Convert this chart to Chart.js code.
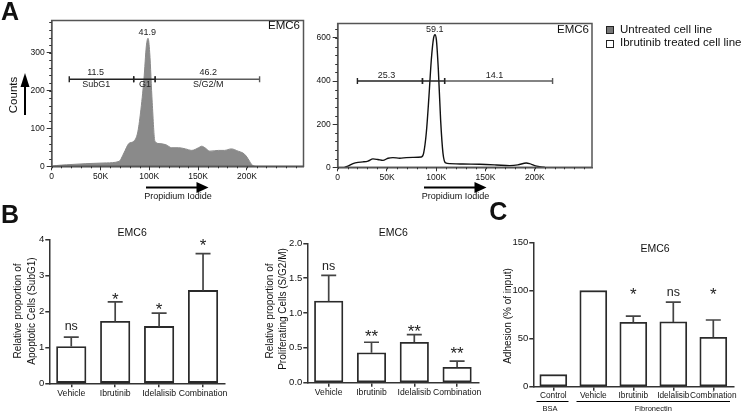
<!DOCTYPE html>
<html>
<head>
<meta charset="utf-8">
<script src="https://cdn.jsdelivr.net/npm/chart.js@4.4.1/dist/chart.umd.min.js"></script>
<style>
  body { margin: 0; background: #fff; }
  #fig { position: relative; width: 745px; height: 418px; overflow: hidden; font-family: 'Liberation Sans', Arial, sans-serif; color: #111; }
  #fig canvas, #fig svg { position: absolute; left: 0; top: 0; }
  .lbl { position: absolute; white-space: nowrap; line-height: 1; }
  .sq { position: absolute; width: 6px; height: 6px; border: 1px solid #222; }
</style>
</head>
<body>
<div id="fig">
  <canvas id="histA1" width="745" height="418"></canvas>
  <canvas id="histA2" width="745" height="418"></canvas>
  <canvas id="barB1" width="745" height="418"></canvas>
  <canvas id="barB2" width="745" height="418"></canvas>
  <canvas id="barC" width="745" height="418"></canvas>
  <svg width="745" height="418">
    <!-- Counts arrow -->
    <line x1="25" y1="115" x2="25" y2="86" stroke="#000" stroke-width="2"/>
    <polygon points="25,73 20.5,87 29.5,87" fill="#000"/>
    <!-- Propidium Iodide arrows -->
    <line x1="146" y1="187.5" x2="198" y2="187.5" stroke="#000" stroke-width="2"/>
    <polygon points="208.5,187.5 196.5,182 196.5,193" fill="#000"/>
    <line x1="424" y1="187.5" x2="476" y2="187.5" stroke="#000" stroke-width="2"/>
    <polygon points="486.5,187.5 474.5,182 474.5,193" fill="#000"/>
    <!-- BSA / Fibronectin brackets -->
    <line x1="536.5" y1="401.5" x2="568.5" y2="401.5" stroke="#000" stroke-width="1"/>
    <line x1="576.5" y1="401.5" x2="730" y2="401.5" stroke="#000" stroke-width="1"/>
  </svg>
</div>
<script>
// Panel A: propidium iodide histograms (x in K units, y = counts)
const piUntreated = [0, 5, 15, 35, 56, 69, 74, 79, 84, 88, 91, 94.5, 97, 98.7, 100.4, 103, 105.8, 110, 117, 123, 130, 137, 143.6, 150.4, 153.7, 157, 162, 171, 177, 184, 191, 196, 199.3, 202.8, 206, 211, 258];
const countsUntreated = [0, 2, 4, 7, 9, 13, 35, 60, 66, 88, 141, 230, 318, 338, 301, 168, 66, 60, 57, 49, 49, 46, 42, 49, 53, 49, 40, 42, 42, 46, 40, 35, 27, 13, 2, 0, 0];
const piIbrutinib = [7, 10.4, 15.5, 20.6, 25.7, 30.7, 35.8, 40.9, 45.9, 51, 56, 62.9, 69.7, 76.4, 84.9, 87.2, 89.9, 92.6, 95, 97.3, 98.7, 100.1, 102.1, 104.4, 106.8, 109.5, 113.6, 127, 144, 161, 174.4, 182.8, 191.3, 194.7, 199.8, 204.8, 210];
const countsIbrutinib = [0, 5, 17, 23, 25, 29, 39, 36, 32, 42, 45, 42, 45, 46, 48, 66, 160, 330, 500, 600, 615, 592, 453, 221, 66, 20, 17, 15, 14, 11, 8, 11, 20, 17, 8, 3, 0];

const gatesUntreated = [18, 84, 106, 213];
const gateLevelUntreated = 230;
const gatesIbrutinib = [20, 86, 108.5, 218];
const gateLevelIbrutinib = 400;
// [text, x, y, pixel shift]
const notesUntreated = [['41.9', 98, 340, -5], ['11.5', 45, 230, -6.6], ['SubG1', 45.6, 230, 5.7], ['G1', 95.6, 230, 5.7], ['46.2', 160.5, 230, -6.6], ['S/G2/M', 160.5, 230, 5.7]];
const notesIbrutinib = [['59.1', 98.4, 615, -4.7], ['25.3', 49.4, 400, -6], ['14.1', 159.2, 400, -6]];

// Panel B
const drugs = ['Vehicle', 'Ibrutinib', 'Idelalisib', 'Combination'];
const subG1 = [1.02, 1.72, 1.58, 2.58];
const subG1Err = [0.26, 0.54, 0.37, 1.02];
const subG1Sig = ['ns', '*', '*', '*'];
const subG1SigAt = [1.57, 2.45, 2.18, 3.94];
const sG2M = [1.17, 0.43, 0.58, 0.22];
const sG2MErr = [0.37, 0.15, 0.11, 0.09];
const sG2MSig = ['ns', '**', '**', '**'];
const sG2MSigAt = [1.67, 0.72, 0.79, 0.48];

// Panel C
const adhesionCats = ['Control', 'Vehicle', 'Ibrutinib', 'Idelalisib', 'Combination'];
const adhesion = [12.5, 100, 67, 67.5, 51.5];
const adhesionErr = [0, 0, 6.5, 20.5, 18];
const adhesionSig = ['', '', '*', 'ns', '*'];
const adhesionSigAt = [0, 0, 100.7, 97.9, 100.7];

Chart.defaults.font.family = "'Liberation Sans', Arial, sans-serif";
Chart.defaults.color = '#111';
Chart.defaults.animation = false;
Chart.defaults.events = [];
Chart.defaults.plugins.legend.display = false;
Chart.defaults.plugins.tooltip.enabled = false;

const YW = 30, XH = 20;
function padFor(box) {
  return { left: box.left - YW, right: 745 - box.right, top: box.top, bottom: 418 - box.bottom - XH };
}

// frame + minor ticks of the flow plots
const flowFrame = (xMinor, yMinor) => ({
  id: 'flowFrame',
  afterDraw(chart) {
    const { ctx, chartArea: a, scales: { x, y } } = chart;
    ctx.save();
    ctx.strokeStyle = '#555';
    ctx.lineWidth = 1.5;
    ctx.strokeRect(a.left, a.top, a.right - a.left, a.bottom - a.top);
    ctx.strokeStyle = '#333';
    ctx.lineWidth = 1;
    ctx.beginPath();
    for (let v = 0; v <= x.max; v += xMinor) {
      const px = Math.round(x.getPixelForValue(v)) + 0.5;
      ctx.moveTo(px, a.bottom); ctx.lineTo(px, a.bottom + 2);
    }
    for (let v = 0; v <= y.max; v += yMinor) {
      const py = Math.round(y.getPixelForValue(v)) + 0.5;
      ctx.moveTo(a.left, py); ctx.lineTo(a.left - 2.5, py);
    }
    ctx.stroke();
    ctx.restore();
  }
});

const flowNotes = notes => ({
  id: 'flowNotes',
  afterDatasetsDraw(chart) {
    const { ctx, scales: { x, y } } = chart;
    ctx.save();
    ctx.font = "9px 'Liberation Sans', Arial, sans-serif";
    ctx.fillStyle = '#222';
    ctx.textAlign = 'center';
    ctx.textBaseline = 'middle';
    notes.forEach(([t, vx, vy, dy]) => ctx.fillText(t, x.getPixelForValue(vx), y.getPixelForValue(vy) + dy));
    ctx.restore();
  }
});

function flowChart(id, xs, ys, gates, level, notes, box, yMax, yStep, yMinor, filled) {
  const gateCols = ['#222', '#222', '#5a5a5a'];
  const gateSets = [0, 1, 2].map(i => ({
    data: [{ x: gates[i], y: level }, { x: gates[i + 1], y: level }],
    showLine: true, borderColor: gateCols[i], borderWidth: 1.4,
    pointStyle: 'line', rotation: 90, pointRadius: 3,
    pointBorderColor: gateCols[i], pointBorderWidth: 1.4, order: 0
  }));
  const hist = {
    data: xs.map((v, i) => ({ x: v, y: ys[i] })),
    showLine: true, pointRadius: 0, cubicInterpolationMode: 'monotone',
    fill: filled ? 'origin' : false,
    backgroundColor: '#8a8a8a',
    borderColor: filled ? '#8a8a8a' : '#111',
    borderWidth: filled ? 1 : 1.4,
    order: 1
  };
  return new Chart(document.getElementById(id), {
    type: 'scatter',
    data: { datasets: [hist, ...gateSets] },
    options: {
      responsive: false,
      layout: { padding: padFor(box) },
      scales: {
        x: {
          type: 'linear', min: 0, max: 258,
          afterFit: s => { s.height = XH; },
          afterBuildTicks: s => { s.ticks = s.ticks.filter(t => t.value % 50 === 0); },
          ticks: { stepSize: 50, font: { size: 8.5 }, padding: 1.5, color: '#111', maxRotation: 0,
                   callback: v => v === 0 ? '0' : v + 'K' },
          grid: { drawOnChartArea: false, tickLength: 4, color: '#333', lineWidth: 1 },
          border: { color: '#555', width: 1.5 }
        },
        y: {
          min: 0, max: yMax,
          afterFit: s => { s.width = YW; },
          afterBuildTicks: s => { s.ticks = s.ticks.filter(t => t.value % yStep === 0); },
          ticks: { stepSize: yStep, font: { size: 8.5 }, padding: 2, color: '#111' },
          grid: { drawOnChartArea: false, tickLength: 5, color: '#333', lineWidth: 1 },
          border: { color: '#555', width: 1.5 }
        }
      }
    },
    plugins: [flowFrame(10, yMinor), flowNotes(notes)]
  });
}

// error whiskers (upper only) and significance marks
const whiskers = errs => ({
  id: 'whiskers',
  afterDatasetsDraw(chart) {
    const { ctx, scales: { y } } = chart;
    const vals = chart.data.datasets[0].data;
    ctx.save();
    ctx.strokeStyle = '#444';
    ctx.lineWidth = 1.7;
    chart.getDatasetMeta(0).data.forEach((bar, i) => {
      if (!errs[i]) return;
      const y0 = y.getPixelForValue(vals[i]), y1 = y.getPixelForValue(vals[i] + errs[i]);
      ctx.beginPath();
      ctx.moveTo(bar.x, y0); ctx.lineTo(bar.x, y1);
      ctx.moveTo(bar.x - 7.5, y1); ctx.lineTo(bar.x + 7.5, y1);
      ctx.stroke();
    });
    ctx.restore();
  }
});

const sigMarks = (marks, at) => ({
  id: 'sigMarks',
  afterDatasetsDraw(chart) {
    const { ctx, scales: { y } } = chart;
    ctx.save();
    ctx.fillStyle = '#222';
    ctx.textAlign = 'center';
    ctx.textBaseline = 'alphabetic';
    chart.getDatasetMeta(0).data.forEach((bar, i) => {
      if (!marks[i]) return;
      const star = marks[i].includes('*');
      const fs = star ? 17 : 12.5;
      ctx.font = fs + "px 'Liberation Sans', Arial, sans-serif";
      const shift = star ? 0.57 * fs : 0.26 * fs;
      ctx.fillText(marks[i], bar.x, y.getPixelForValue(at[i]) + shift);
    });
    ctx.restore();
  }
});

function barChart(id, cats, vals, errs, marks, at, box, yMax, yStep, catFont, barW, labelPad, fmt) {
  return new Chart(document.getElementById(id), {
    type: 'bar',
    data: { labels: cats, datasets: [{ data: vals, backgroundColor: '#fff', borderColor: '#2a2a2a',
            borderWidth: 1.8, borderSkipped: false, barThickness: barW }] },
    options: {
      responsive: false,
      layout: { padding: padFor(box) },
      scales: {
        x: {
          afterFit: s => { s.height = XH; },
          ticks: { font: { size: catFont }, padding: labelPad, color: '#111', maxRotation: 0, autoSkip: false },
          grid: { drawOnChartArea: false, offset: false, tickLength: 4, color: '#333', lineWidth: 1.5 },
          border: { color: '#333', width: 1.5 }
        },
        y: {
          min: 0, max: yMax,
          afterFit: s => { s.width = YW; },
          ticks: { stepSize: yStep, font: { size: 9.5 }, padding: 1, color: '#111', callback: fmt },
          grid: { drawOnChartArea: false, tickLength: 4, color: '#333', lineWidth: 1.5 },
          border: { color: '#333', width: 1.5 }
        }
      }
    },
    plugins: [whiskers(errs), sigMarks(marks, at)]
  });
}

flowChart('histA1', piUntreated, countsUntreated, gatesUntreated, gateLevelUntreated, notesUntreated,
  { left: 51.7, right: 303.5, top: 20.5, bottom: 166.3 }, 385, 100, 20, true);
flowChart('histA2', piIbrutinib, countsIbrutinib, gatesIbrutinib, gateLevelIbrutinib, notesIbrutinib,
  { left: 337.7, right: 592, top: 23.5, bottom: 167.3 }, 667, 200, 40, false);

barChart('barB1', drugs, subG1, subG1Err, subG1Sig, subG1SigAt,
  { left: 49.3, right: 225, top: 239.3, bottom: 383.3 }, 4, 1, 8.7, 29.5, 0.8, v => v);
barChart('barB2', drugs, sG2M, sG2MErr, sG2MSig, sG2MSigAt,
  { left: 307.3, right: 478.5, top: 243.3, bottom: 382.7 }, 2, 0.5, 8.6, 28.5, 0.8, v => v.toFixed(1));
barChart('barC', adhesionCats, adhesion, adhesionErr, adhesionSig, adhesionSigAt,
  { left: 533.3, right: 733.3, top: 242.7, bottom: 386.7 }, 150, 50, 8.3, 27, 0.5, v => v);

// text labels around the plots
const fig = document.getElementById('fig');
function put(text, x, y, size, opt = {}) {
  const d = document.createElement('div');
  d.className = 'lbl';
  d.textContent = text;
  d.style.left = x + 'px';
  d.style.top = y + 'px';
  d.style.fontSize = size + 'px';
  if (opt.bold) d.style.fontWeight = 'bold';
  const ax = opt.align === 'right' ? '-100%' : opt.align === 'left' ? '0' : '-50%';
  d.style.transform = `translate(${ax}, -50%)` + (opt.vertical ? ' rotate(-90deg)' : '');
  fig.appendChild(d);
}

put('A', 10, 11, 25, { bold: true });
put('B', 10, 214, 25, { bold: true });
put('C', 498.3, 211, 25, { bold: true });

put('EMC6', 300, 26, 11.5, { align: 'right' });
put('EMC6', 589, 29.5, 11.5, { align: 'right' });
put('Counts', 14, 95, 11.5, { vertical: true });
put('Propidium Iodide', 178, 195.7, 9);
put('Propidium Iodide', 455.5, 195.7, 9);

const sq1 = document.createElement('div');
sq1.className = 'sq'; sq1.style.left = '606px'; sq1.style.top = '26px'; sq1.style.background = '#777';
fig.appendChild(sq1);
const sq2 = document.createElement('div');
sq2.className = 'sq'; sq2.style.left = '606px'; sq2.style.top = '39.5px'; sq2.style.background = '#fff';
fig.appendChild(sq2);
put('Untreated cell line', 620, 30, 11.5, { align: 'left' });
put('Ibrutinib treated cell line', 620, 43.3, 11.5, { align: 'left' });

put('EMC6', 132.2, 231.7, 10.5);
put('Relative proportion of', 18.3, 311, 10, { vertical: true });
put('Apoptotic Cells (SubG1)', 31.7, 311, 10, { vertical: true });

put('EMC6', 393.3, 231.7, 10.5);
put('Relative proportion of', 270, 311, 10, { vertical: true });
put('Proliferating Cells (S/G2/M)', 283.3, 309, 10, { vertical: true });

put('EMC6', 655, 248.3, 10.5);
put('Adhesion (% of input)', 508.3, 316, 10, { vertical: true });
put('BSA', 550, 409, 7.5);
put('Fibronectin', 653.3, 409, 7.5);
</script>
</body>
</html>
